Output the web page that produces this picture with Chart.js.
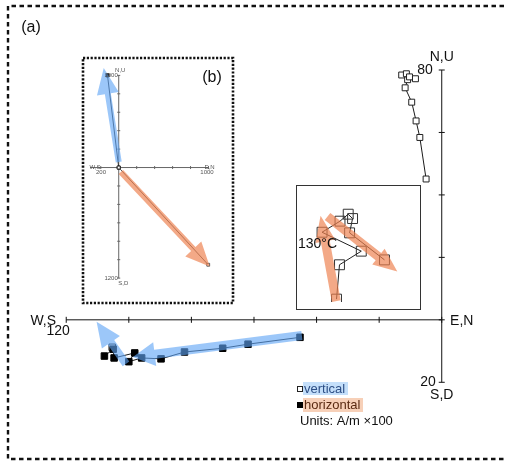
<!DOCTYPE html>
<html>
<head>
<meta charset="utf-8">
<script src="https://cdn.jsdelivr.net/npm/chart.js@4/dist/chart.umd.min.js"></script>
<style>
  html, body { margin: 0; padding: 0; background: #fff; overflow: hidden; }
  #wrap { position: relative; width: 507px; height: 464px; overflow: hidden; }
  canvas { position: absolute; }
  #main { left: 0; top: 0; }
  #insetB { left: 81px; top: 56px; }
  #insetC { left: 296px; top: 185px; }
</style>
</head>
<body>
<div id="wrap">
  <canvas id="main" width="507" height="464"></canvas>
  <canvas id="insetB" width="154" height="249"></canvas>
  <canvas id="insetC" width="125" height="125"></canvas>
</div>
<script>
// --- main plot (a), units A/m x100 ---
const ticksX = [-120, -100, -80, -60, -40, -20, 0];
const ticksY = [-20, 0, 20, 40, 60, 80];

// vertical projection (open squares)
const vertX = [-5.0, -7.0, -8.2, -9.6, -11.7, -10.9, -12.8, -11.3, -10.3, -8.4];
const vertY = [45.1, 58.4, 63.7, 69.7, 74.3, 76.9, 78.4, 78.8, 77.8, 77.2];
// horizontal projection (filled squares)
const horX = [-45.3, -61.9, -70.0, -82.2, -89.7, -95.9, -100.0, -98.1, -104.7, -105.0, -107.8];
const horY = [-5.6, -7.8, -9.1, -10.3, -12.5, -12.2, -13.4, -10.6, -12.2, -9.4, -11.6];
const extraOpenX = [-105.3];
const extraOpenY = [-8.8];

// blue fit arrows (from, to)
const blueA = [[-44.7, -5.0], [-98.7, -11.9]];
const blueB = [[-100.9, -14.1], [-110.3, -0.6]];

// --- inset (b) ---
const bTicksX = [-200, 0, 200, 400, 600, 800, 1000];
const bTicksY = [-1200, -1000, -800, -600, -400, -200, 0, 200, 400, 600, 800, 1000];
const bFilledX = [-125, 0];
const bFilledY = [1000, 0];
const bOpenX = [0, 997];
const bOpenY = [0, -1055];
const bBlue = [[0, 60], [-167, 1080]];
const bOrange = [[24, -49], [1014, -1073]];

// --- inset close-up (130°C) ---
const cX = [37.3, 40.7, 65.7, 20.7, 41.3, 50.7, 55.7, 52.3, 92.3];
const cY = [3.3, 42.7, 58.3, 80, 92.7, 100.7, 95.7, 79.3, 48.3];
const cOrangeA = [[37, 1], [19, 99]];
const cOrangeB = [[27, 98], [107, 35]];

const FONT = '"Liberation Sans", Arial, Helvetica, sans-serif';
const BLUE = 'rgba(95,165,245,0.62)';
const ORANGE = 'rgba(238,128,78,0.68)';

function pts(xs, ys) { return xs.map((x, i) => ({ x: x, y: ys[i] })); }

function drawArrow(ctx, p0, p1, color, band, headL, headW) {
  const dx = p1.x - p0.x, dy = p1.y - p0.y;
  const len = Math.hypot(dx, dy);
  const ux = dx / len, uy = dy / len, nx = -uy, ny = ux;
  const bx = p1.x - ux * headL, by = p1.y - uy * headL;
  ctx.save();
  ctx.fillStyle = color;
  ctx.beginPath();
  ctx.moveTo(p0.x + nx * band / 2, p0.y + ny * band / 2);
  ctx.lineTo(bx + nx * band / 2, by + ny * band / 2);
  ctx.lineTo(bx + nx * headW, by + ny * headW);
  ctx.lineTo(p1.x, p1.y);
  ctx.lineTo(bx - nx * headW, by - ny * headW);
  ctx.lineTo(bx - nx * band / 2, by - ny * band / 2);
  ctx.lineTo(p0.x - nx * band / 2, p0.y - ny * band / 2);
  ctx.closePath();
  ctx.fill();
  ctx.restore();
}

function px(chart, v) {
  return { x: chart.scales.x.getPixelForValue(v[0]), y: chart.scales.y.getPixelForValue(v[1]) };
}

function text(ctx, s, x, y, size, align, color) {
  ctx.font = size + 'px ' + FONT;
  ctx.textAlign = align || 'center';
  ctx.textBaseline = 'middle';
  ctx.fillStyle = color || '#111';
  ctx.fillText(s, x, y);
}

function drawAxes(chart, tx, ty, xFrom, tickLen, color) {
  const ctx = chart.ctx, sx = chart.scales.x, sy = chart.scales.y;
  const x0 = sx.getPixelForValue(0), y0 = sy.getPixelForValue(0);
  ctx.save();
  ctx.strokeStyle = color;
  ctx.lineWidth = 1;
  ctx.setLineDash([]);
  ctx.beginPath();
  ctx.moveTo(sx.getPixelForValue(xFrom), y0);
  ctx.lineTo(sx.getPixelForValue(tx[tx.length - 1]), y0);
  ctx.moveTo(x0, sy.getPixelForValue(ty[0]));
  ctx.lineTo(x0, sy.getPixelForValue(ty[ty.length - 1]));
  tx.forEach(v => {
    const p = sx.getPixelForValue(v);
    ctx.moveTo(p, y0 - tickLen); ctx.lineTo(p, y0 + tickLen);
  });
  ty.forEach(v => {
    const p = sy.getPixelForValue(v);
    ctx.moveTo(x0 - tickLen, p); ctx.lineTo(x0 + tickLen, p);
  });
  ctx.stroke();
  ctx.restore();
}

// ---------- main chart ----------
new Chart(document.getElementById('main'), {
  type: 'scatter',
  data: {
    datasets: [
      { data: pts(horX, horY), showLine: true, borderColor: '#1a1a1a', borderWidth: 1,
        pointStyle: 'rect', pointRadius: 4.6, pointBackgroundColor: '#000', pointBorderColor: '#000' },
      { data: pts(extraOpenX, extraOpenY), showLine: false,
        pointStyle: 'rect', pointRadius: 4.6, pointBackgroundColor: 'rgba(255,255,255,0.3)', pointBorderColor: '#222', pointBorderWidth: 1 },
      { data: pts(vertX, vertY), showLine: true, borderColor: '#1a1a1a', borderWidth: 1,
        pointStyle: 'rect', pointRadius: 4.2, pointBackgroundColor: '#fff', pointBorderColor: '#222', pointBorderWidth: 1 },
    ],
  },
  options: {
    responsive: false,
    animation: false,
    layout: { padding: 0 },
    plugins: { legend: { display: false }, tooltip: { enabled: false } },
    scales: {
      x: { type: 'linear', display: false, min: -446 / 3.2, max: (507 - 446) / 3.2 },
      y: { type: 'linear', display: false, min: -(464 - 322) / 3.2, max: 322 / 3.2 },
    },
  },
  plugins: [{
    id: 'zijderveld',
    beforeDatasetsDraw(chart) {
      const ctx = chart.ctx;
      // dashed frame (right side runs off the picture)
      ctx.save();
      ctx.strokeStyle = '#111';
      ctx.lineWidth = 2.4;
      ctx.setLineDash([4.5, 3.5]);
      ctx.beginPath();
      ctx.moveTo(560, 6); ctx.lineTo(8, 6); ctx.lineTo(8, 459); ctx.lineTo(560, 459);
      ctx.stroke();
      ctx.restore();
      drawAxes(chart, ticksX, ticksY, ticksX[0], 3, '#111');
    },
    afterDatasetsDraw(chart) {
      const ctx = chart.ctx, sx = chart.scales.x, sy = chart.scales.y;
      drawArrow(ctx, px(chart, blueA[0]), px(chart, blueA[1]), BLUE, 9, 22, 12);
      drawArrow(ctx, px(chart, blueB[0]), px(chart, blueB[1]), BLUE, 8, 25, 11);

      const x0 = sx.getPixelForValue(0), y0 = sy.getPixelForValue(0);
      const top = sy.getPixelForValue(ticksY[ticksY.length - 1]);
      const bot = sy.getPixelForValue(ticksY[0]);
      const left = sx.getPixelForValue(ticksX[0]);
      text(ctx, '(a)', 31, 28, 16, 'center');
      text(ctx, 'N,U', x0, top - 13, 14, 'center');
      text(ctx, String(ticksY[ticksY.length - 1]), x0 - 9, top, 14, 'right');
      text(ctx, String(-ticksY[0]), x0 - 6, bot, 14, 'right');
      text(ctx, 'S,D', x0, bot + 13, 14, 'center');
      text(ctx, 'E,N', x0 + 20, y0 + 1, 14, 'center');
      text(ctx, 'W,S', left - 23, y0 + 1, 14, 'center');
      text(ctx, String(-ticksX[0]), left - 8, y0 + 11, 14, 'center');

      // legend
      ctx.save();
      ctx.fillStyle = 'rgba(190,220,250,0.9)';
      ctx.fillRect(303, 382, 45, 13);
      ctx.fillStyle = 'rgba(247,205,180,0.95)';
      ctx.fillRect(303, 398, 60, 14);
      ctx.strokeStyle = '#222';
      ctx.lineWidth = 1;
      ctx.fillStyle = '#fff';
      ctx.fillRect(297.5, 386.5, 5, 5);
      ctx.strokeRect(297.5, 386.5, 5, 5);
      ctx.fillStyle = '#000';
      ctx.fillRect(297, 402, 6, 6);
      ctx.restore();
      text(ctx, 'vertical', 304, 389, 13, 'left', '#2d4f86');
      text(ctx, 'horizontal', 304, 405.5, 13, 'left', '#5a2a12');
      text(ctx, 'Units: A/m \u00d7100', 300, 421.5, 13, 'left', '#111');
    },
  }],
});

// ---------- inset (b) ----------
const kB = 0.096;
new Chart(document.getElementById('insetB'), {
  type: 'scatter',
  data: {
    datasets: [
      { data: pts(bOpenX, bOpenY), showLine: true, borderColor: '#555', borderWidth: 1,
        pointStyle: 'rect', pointRadius: 2, pointBackgroundColor: '#fff', pointBorderColor: '#333', pointBorderWidth: 0.8 },
      { data: pts(bFilledX, bFilledY), showLine: true, borderColor: '#333', borderWidth: 1,
        pointStyle: 'rect', pointRadius: 2.2, pointBackgroundColor: '#000', pointBorderColor: '#000' },
    ],
  },
  options: {
    responsive: false,
    animation: false,
    layout: { padding: 0 },
    plugins: { legend: { display: false }, tooltip: { enabled: false } },
    scales: {
      x: { type: 'linear', display: false, min: -35 / kB, max: (154 - 35) / kB },
      y: { type: 'linear', display: false, min: -(249 - 111) / kB, max: 111 / kB },
    },
  },
  plugins: [{
    id: 'insetB',
    beforeDraw(chart) {
      const ctx = chart.ctx;
      ctx.save();
      ctx.fillStyle = '#fff';
      ctx.fillRect(0, 0, chart.width, chart.height);
      ctx.strokeStyle = '#111';
      ctx.lineWidth = 2.6;
      ctx.setLineDash([2.2, 1.6]);
      ctx.strokeRect(2, 2, chart.width - 4, chart.height - 4);
      ctx.restore();
    },
    beforeDatasetsDraw(chart) {
      drawAxes(chart, bTicksX, bTicksY, -320, 1.5, '#666');
    },
    afterDatasetsDraw(chart) {
      const ctx = chart.ctx, sx = chart.scales.x, sy = chart.scales.y;
      drawArrow(ctx, px(chart, bBlue[0]), px(chart, bBlue[1]), BLUE, 6, 26, 11);
      drawArrow(ctx, px(chart, bOrange[0]), px(chart, bOrange[1]), ORANGE, 6, 24, 11);
      const x0 = sx.getPixelForValue(0), y0 = sy.getPixelForValue(0);
      const top = sy.getPixelForValue(1000), bot = sy.getPixelForValue(-1200);
      const right = sx.getPixelForValue(1000), left = sx.getPixelForValue(-320);
      const c = '#555';
      text(ctx, 'N,U', x0 + 1.5, top - 5.5, 6, 'center', c);
      text(ctx, '1000', x0 - 1, top, 6, 'right', c);
      text(ctx, 'W,S', left + 5, y0, 6, 'center', c);
      text(ctx, '200', left + 11, y0 + 4.5, 6, 'center', c);
      text(ctx, 'E,N', right + 1, y0, 6, 'center', c);
      text(ctx, '1000', right - 1.5, y0 + 4.5, 6, 'center', c);
      text(ctx, '1200', x0 - 1, bot, 6, 'right', c);
      text(ctx, 'S,D', x0 + 4.5, bot + 5, 6, 'center', c);
      text(ctx, '(b)', 131, 22, 16, 'center', '#111');
    },
  }],
});

// ---------- close-up inset ----------
new Chart(document.getElementById('insetC'), {
  type: 'scatter',
  data: {
    datasets: [
      { data: pts(cX, cY), showLine: true, borderColor: '#222', borderWidth: 1,
        pointStyle: 'rect', pointRadius: 7, pointBackgroundColor: 'rgba(255,255,255,0)', pointBorderColor: '#333', pointBorderWidth: 1 },
    ],
  },
  options: {
    responsive: false,
    animation: false,
    layout: { padding: 0 },
    plugins: { legend: { display: false }, tooltip: { enabled: false } },
    scales: {
      x: { type: 'linear', display: false, min: 0, max: 125 },
      y: { type: 'linear', display: false, min: 0, max: 125 },
    },
  },
  plugins: [{
    id: 'insetC',
    beforeDraw(chart) {
      const ctx = chart.ctx;
      ctx.save();
      ctx.fillStyle = '#fff';
      ctx.fillRect(0, 0, chart.width, chart.height);
      ctx.restore();
    },
    afterDatasetsDraw(chart) {
      const ctx = chart.ctx;
      drawArrow(ctx, px(chart, cOrangeA[0]), px(chart, cOrangeA[1]), ORANGE, 9, 26, 10);
      drawArrow(ctx, px(chart, cOrangeB[0]), px(chart, cOrangeB[1]), ORANGE, 9, 24, 10);
      text(ctx, '130°C', 2, 59, 14, 'left', '#111');
      ctx.save();
      ctx.strokeStyle = '#333';
      ctx.lineWidth = 1;
      ctx.strokeRect(0.5, 0.5, chart.width - 1, chart.height - 1);
      ctx.restore();
    },
  }],
});
</script>
</body>
</html>
